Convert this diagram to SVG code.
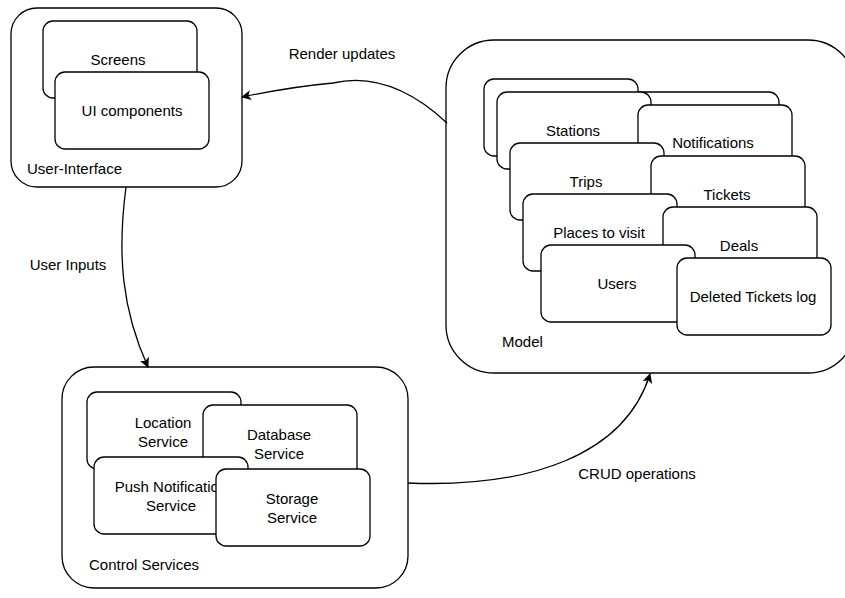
<svg xmlns="http://www.w3.org/2000/svg" width="845" height="598" viewBox="0 0 845 598">
  <defs>
    <marker id="arrow" viewBox="0 0 10 10" refX="9" refY="5" markerWidth="10" markerHeight="10" markerUnits="userSpaceOnUse" orient="auto">
      <path d="M0,0 L10,5 L0,10 L2.5,5 Z" fill="#000"/>
    </marker>
  </defs>
  <style>
    .container { fill: #fff; stroke: #000; stroke-width: 1.3; }
    .box { fill: #fff; stroke: #000; stroke-width: 1.3; }
    .edge { fill: none; stroke: #000; stroke-width: 1.3; marker-end: url(#arrow); }
    text { font-family: "Liberation Sans", Arial, Helvetica, sans-serif; font-size: 15px; fill: #000; }
    .c { text-anchor: middle; dominant-baseline: central; }
    .l { dominant-baseline: central; }
  </style>

  <rect width="845" height="598" fill="#fff"/>

  <!-- User-Interface layer -->
  <g id="user-interface">
    <rect class="container" x="11" y="8" width="231" height="179" rx="26"/>
    <text class="l" x="27" y="168">User-Interface</text>
    <g id="screens">
      <rect class="box" x="43" y="21" width="154" height="77" rx="10"/>
      <text class="c" x="118" y="59">Screens</text>
    </g>
    <g id="ui-components">
      <rect class="box" x="55" y="72" width="154" height="77" rx="10"/>
      <text class="c" x="132" y="110">UI components</text>
    </g>
  </g>

  <!-- Model layer -->
  <g id="model">
    <rect class="container" x="446" y="40" width="410" height="333" rx="48"/>
    <text class="l" x="502" y="341">Model</text>
    <!-- back sheet of the notifications stack sits under the stations stack -->
    <rect class="box" x="625" y="92" width="154" height="77" rx="10"/>
    <g id="stations">
      <rect class="box" x="484" y="79" width="154" height="77" rx="10"/>
      <rect class="box" x="497" y="92" width="154" height="77" rx="10"/>
      <text class="c" x="573" y="130">Stations</text>
    </g>
    <g id="notifications">
      <rect class="box" x="638" y="105" width="154" height="77" rx="10"/>
      <text class="c" x="713" y="142">Notifications</text>
    </g>
    <g id="trips">
      <rect class="box" x="510" y="143" width="154" height="77" rx="10"/>
      <text class="c" x="586" y="181">Trips</text>
    </g>
    <g id="tickets">
      <rect class="box" x="651" y="156" width="154" height="77" rx="10"/>
      <text class="c" x="727" y="194">Tickets</text>
    </g>
    <g id="places-to-visit">
      <rect class="box" x="523" y="194" width="154" height="77" rx="10"/>
      <text class="c" x="599" y="232">Places to visit</text>
    </g>
    <g id="deals">
      <rect class="box" x="663" y="207" width="154" height="77" rx="10"/>
      <text class="c" x="739" y="245">Deals</text>
    </g>
    <g id="users">
      <rect class="box" x="541" y="245" width="154" height="77" rx="10"/>
      <text class="c" x="617" y="283">Users</text>
    </g>
    <g id="deleted-tickets-log">
      <rect class="box" x="677" y="258" width="154" height="77" rx="10"/>
      <text class="c" x="753" y="296">Deleted Tickets log</text>
    </g>
  </g>

  <!-- Control Services layer -->
  <g id="control-services">
    <rect class="container" x="62" y="367" width="346" height="221" rx="32"/>
    <text class="l" x="89" y="564">Control Services</text>
    <g id="location-service">
      <rect class="box" x="87" y="392" width="154" height="77" rx="10"/>
      <text class="c" x="163" y="422">Location</text>
      <text class="c" x="163" y="441">Service</text>
    </g>
    <g id="database-service">
      <rect class="box" x="203" y="405" width="154" height="77" rx="10"/>
      <text class="c" x="279" y="434">Database</text>
      <text class="c" x="279" y="453">Service</text>
    </g>
    <g id="push-notification-service">
      <rect class="box" x="94" y="457" width="154" height="77" rx="10"/>
      <text class="c" x="171" y="486">Push Notification</text>
      <text class="c" x="171" y="505">Service</text>
    </g>
    <g id="storage-service">
      <rect class="box" x="216" y="469" width="154" height="77" rx="10"/>
      <text class="c" x="292" y="498">Storage</text>
      <text class="c" x="292" y="517">Service</text>
    </g>
  </g>

  <!-- Connectors -->
  <g id="connectors">
    <path class="edge" d="M447,123 Q390,70 333,83 Q290,87 242,97"/>
    <text class="c" x="342" y="53">Render updates</text>
    <path class="edge" d="M126,187 C117,255 122,310 148,367"/>
    <text class="c" x="68" y="264">User Inputs</text>
    <path class="edge" d="M408,483 C530,488 625,455 650,374"/>
    <text class="c" x="637" y="473">CRUD operations</text>
  </g>
</svg>
